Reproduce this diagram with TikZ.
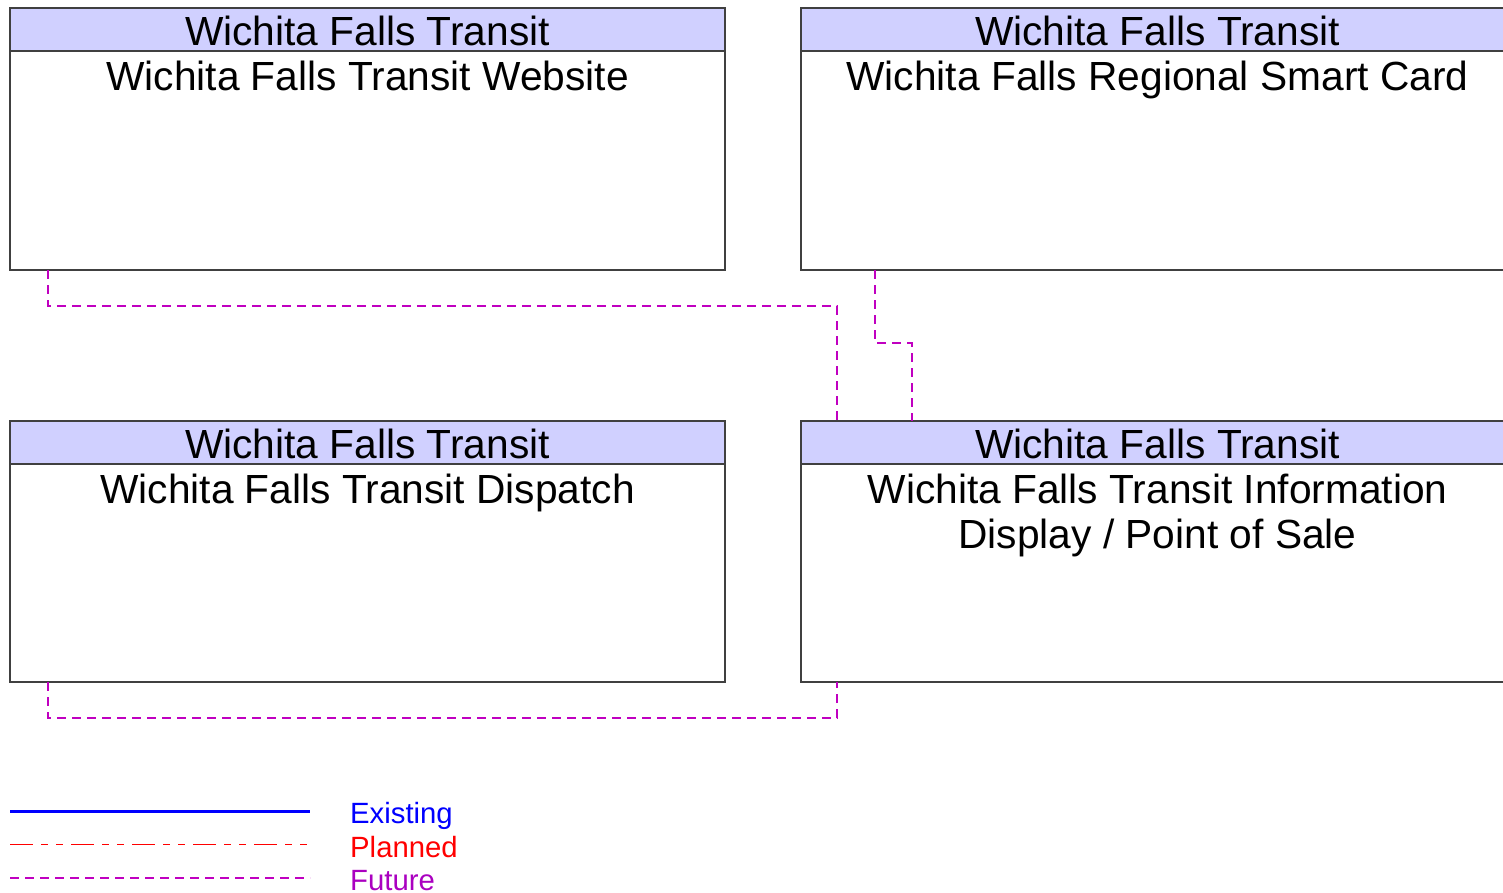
\documentclass[tikz,border=0pt]{standalone}
\usepackage{fontspec}
\setmainfont{Liberation Sans}
\usetikzlibrary{calc}
\definecolor{hdr}{RGB}{208,208,255}
\definecolor{fut}{RGB}{192,0,192}
\definecolor{futtext}{RGB}{170,0,192}
\begin{document}
\begin{tikzpicture}[x=1pt,y=-1pt,
  boxbody/.style={draw=black!75,line width=1.2pt,fill=white,minimum width=715pt,minimum height=#1,inner sep=0pt,outer sep=0pt},
  boxhead/.style={draw=black!75,line width=1.2pt,fill=hdr,minimum width=715pt,minimum height=43pt,inner sep=0pt,outer sep=0pt},
  big/.style={font=\fontsize{40.7}{45}\selectfont,anchor=base,inner sep=0pt,align=center},
  leg/.style={font=\fontsize{29.3}{32}\selectfont,anchor=base west,inner sep=0pt},
  futureline/.style={draw=fut,line width=1.4pt,dash pattern=on 9pt off 6pt},
  plannedline/.style={draw=red,line width=1.4pt,dash pattern=on 23pt off 8pt on 7pt off 8pt on 7pt off 8pt},
  existingline/.style={draw=blue,line width=3pt}]
\useasboundingbox (0,0) rectangle (1503,892);
\clip (0,0) rectangle (1503,892);
% Website
\node[boxbody=219pt] (web) at (367.5,160.5) {};
\node[boxhead] (webh) at (367.5,29.5) {};
\node[big] (webht) at (367.5,45) {Wichita Falls Transit};
\node[big] (webt) at (367.5,90) {Wichita Falls Transit Website};
% Smart card
\node[boxbody=219pt] (card) at (1158.5,160.5) {};
\node[boxhead] (cardh) at (1158.5,29.5) {};
\node[big] (cardht) at (1157.5,45) {Wichita Falls Transit};
\node[big] (cardt) at (1157.5,90) {Wichita Falls Regional Smart Card};
% Dispatch
\node[boxbody=218pt] (disp) at (367.5,573) {};
\node[boxhead] (disph) at (367.5,442.5) {};
\node[big] (dispht) at (367.5,458) {Wichita Falls Transit};
\node[big] (dispt) at (367.5,503) {Wichita Falls Transit Dispatch};
% Info display
\node[boxbody=218pt] (info) at (1158.5,573) {};
\node[boxhead] (infoh) at (1158.5,442.5) {};
\node[big] (infoht) at (1157.5,458) {Wichita Falls Transit};
\node[big] (infot1) at (1157.5,503) {Wichita Falls Transit Information};
\node[big] (infot2) at (1157.5,548) {Display / Point of Sale};
% connectors
\coordinate (w1) at ($(web.south west)+(38,0)$);
\coordinate (i1) at ($(infoh.north west)+(36,0)$);
\draw[futureline] (w1) -- ++(0,36) -| (i1);
\coordinate (c1) at ($(card.south west)+(74,0)$);
\coordinate (i2) at ($(infoh.north west)+(111,0)$);
\draw[futureline] (c1) -- ++(0,73) -| (i2);
\coordinate (d1) at ($(disp.south west)+(38,0)$);
\coordinate (i3) at ($(info.south west)+(36,0)$);
\draw[futureline] (d1) -- ++(0,36) -| (i3);
% legend
\coordinate (le1) at (10,811); \coordinate (le2) at (310,811);
\coordinate (lp1) at (10,844.5); \coordinate (lp2) at (310,844.5);
\coordinate (lf1) at (10,878); \coordinate (lf2) at (310,878);
\draw[existingline] (le1) -- (le2);
\draw[plannedline] (lp1) -- (lp2);
\draw[futureline] (lf1) -- (lf2);
\node[leg,text=blue] (lte) at (350,823) {Existing};
\node[leg,text=red] (ltp) at (350,857) {Planned};
\node[leg,text=futtext] (ltf) at (350,890.5) {Future};
\end{tikzpicture}
\end{document}
